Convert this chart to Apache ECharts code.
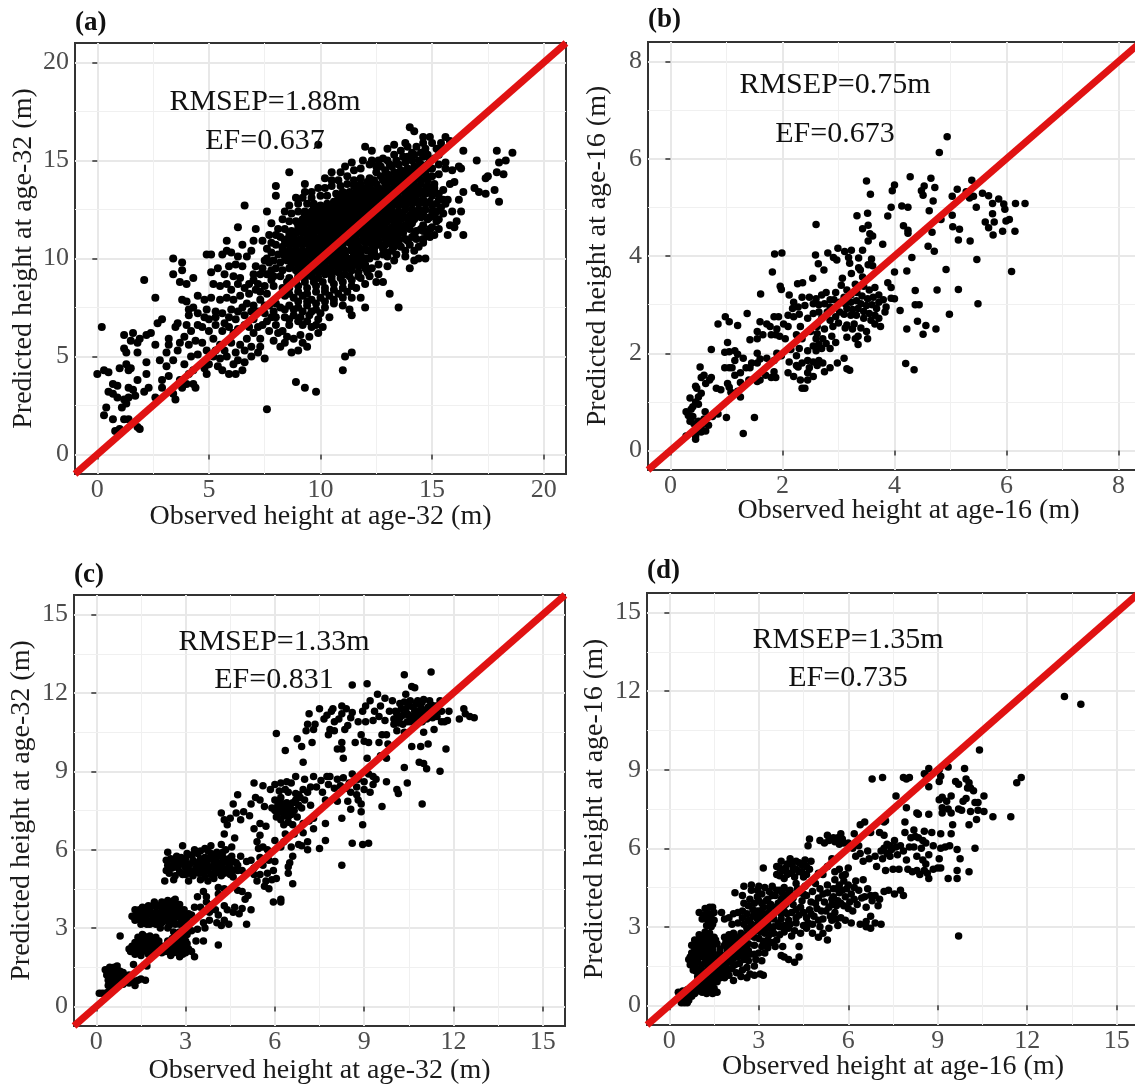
<!DOCTYPE html>
<html>
<head>
<meta charset="utf-8">
<title>Observed vs predicted height</title>
<script src="https://cdn.jsdelivr.net/npm/echarts@6/dist/echarts.min.js"></script>
<style>
  html, body { margin: 0; padding: 0; background: #fff; overflow: hidden; }
  #chart { width: 1135px; height: 1087px; }
</style>
</head>
<body>
<div id="chart"></div>
<script>
// tick labels, major and minor gridlines per panel
const ticksA = [0, 5, 10, 15, 20];
const minorA = [2.5, 7.5, 12.5, 17.5];
const ticksB = [0, 2, 4, 6, 8];
const minorB = [1, 3, 5, 7];
const ticksCD = [0, 3, 6, 9, 12, 15];
const minorCD = [1.5, 4.5, 7.5, 10.5, 13.5];

const titles = ['(a)', '(b)', '(c)', '(d)'];
const xNames = ['Observed height at age-32 (m)', 'Observed height at age-16 (m)', 'Observed height at age-32 (m)', 'Observed height at age-16 (m)'];
const yNames = ['Predicted height at age-32 (m)', 'Predicted height at age-16 (m)', 'Predicted height at age-32 (m)', 'Predicted height at age-16 (m)'];
const rmsep = ['RMSEP=1.88m', 'RMSEP=0.75m', 'RMSEP=1.33m', 'RMSEP=1.35m'];
const ef = ['EF=0.637', 'EF=0.673', 'EF=0.831', 'EF=0.735'];

// [observed, predicted]
const pointsA = [
[.2,6.5],[0,4.1],[.3,4.3],[.5,4.2],[.5,3.2],[.7,3.6],[.9,3.5],[.7,3.1],[.9,2.9],[.4,2.4],[.3,2],[.7,1.8],[.8,1.2],[1,1.3],[1.2,1.8],[1.4,1.8],[1.1,2.4],[1.3,2.6],[1.2,2.8],[1.4,2.9],[1.4,3.4],[1.6,3.3],[1.7,3],[1.8,1.4],[1.9,1.3],[1.8,3.8],[2.2,4.1],[2.2,4.7],[2.1,3.2],[2.3,3.4],[1,4.4],[1.3,4.6],[1.4,4.3],[1.5,4.4],[1.2,5.4],[1.3,5.2],[1.2,6.1],[1.6,6.2],[1.5,5.8],[1.8,5.7],[1.8,5.2],[1.9,5.9],[2.2,6.1],[2.4,6.2],[2.6,5.6],[2.6,8],[2.1,8.9],[2.7,6.7],[2.9,6.9],[2.8,4.8],[3.1,5.2],[3.2,5.6],[3.2,5.9],[3.5,6.5],[3.6,6.7],[3.4,10],[3.8,9.8],[3.8,9.4],[3.4,9.2],[3.7,8.8],[4,8.7],[2.6,2.9],[2.9,3.8],[2.9,3.4],[3.2,4],[3.5,2.8],[3.4,3.1],[3.1,4.5],[3.4,4.8],[3.6,5.3],[3.7,5.7],[3.9,6],[3.7,3.8],[3.8,3.4],[4,3.6],[4.1,4.1],[3.9,4.6],[4.3,3.6],[4.4,3.4],[4.3,4.3],[4.2,5],[4.5,5.1],[4.1,5.6],[4.4,5.8],[4.2,6.3],[4.5,6.6],[4,6.6],[4.1,7.1],[4.5,7.2],[4.3,7.5],[3.8,7.9],[4,7.8],[4.1,7.4],[4.5,8.1],[4.8,7.9],[4.7,5.7],[4.9,5.3],[4.8,4.4],[4.9,4.1],[5,4.6],[5.3,5.3],[5.2,5.9],[5.5,5.6],[5,6.9],[5.3,6.6],[5.6,6.3],[4.9,7.4],[5.3,7.3],[5.1,8],[5.5,7.9],[5.6,7.2],[5.9,7],[5.4,4.5],[5.6,4.3],[5.9,4.1],[6.2,4.1],[6.1,4.6],[6.5,4.3],[6.6,4.7],[5.8,5],[6.2,5.2],[6.6,5.3],[6,5.7],[6.4,5.6],[6.7,5.9],[6.9,5.5],[7.2,5.2],[7.5,4.9],[7.3,5.9],[7,6.2],[6.3,6.4],[6.6,6.6],[5.9,6.5],[6.2,6.9],[6.6,7.1],[6,7.4],[6.3,7.3],[5.8,8],[6.1,7.9],[6.4,8.1],[6.8,8.2],[6.7,7.7],[7,7.6],[7.3,7.9],[7,6.9],[7.4,6.6],[7.7,6.3],[7.9,5.8],[8.2,5.5],[8,6.6],[7.5,7.2],[7.8,7],[7.7,7.6],[8,7.7],[5.2,8.7],[5.5,8.6],[6,8.4],[6.6,8.5],[7.1,8.4],[7,8.9],[7.6,8.2],[7.9,8.6],[7.3,9.2],[7.1,9.6],[7.5,9.9],[7.6,9.2],[4.3,9],[5.1,9.3],[5.4,9.5],[5.9,9.6],[6.2,9.7],[6.5,9.6],[6.1,9.1],[6.4,9],[4.9,10.2],[5.1,10.2],[5.6,10.2],[5.8,10.4],[6,10.3],[6.3,10.1],[6.7,10.1],[6.9,10.4],[6.5,10.7],[7,10.9],[6.3,11.6],[7.1,11.5],[5.8,10.9],[6.6,12.7],[7.6,12.4],[7.8,11.8],[7.6,10.5],[7.4,10.9],[7.7,11.2],[8,13.2],[8,13.7],[8.6,14.4],[9.3,13.8],[7.6,2.3],[8.9,3.7],[9.3,3.4],[9.8,3.2],[11,4.3],[11.1,5],[11.4,5.2],[8.7,5.2],[9,5.3],[9.4,5.5],[8.4,5.7],[8.8,5.9],[9.1,6.1],[9.5,6],[9.9,6.2],[8.3,6.3],[8.6,6.6],[9.2,6.6],[9.6,6.5],[10.1,6.5],[10.4,7],[8.4,7],[8.8,7.1],[9.1,7],[9.5,7.1],[9.9,6.9],[8.2,7.5],[8.6,7.6],[9,7.5],[9.4,7.6],[9.8,7.4],[10.2,7.5],[10.6,7.7],[11,7.6],[11.3,7.4],[11.4,7.1],[12,7.5],[11.8,8],[11.4,8],[13.5,7.5],[13.1,8.2],[8.4,8.1],[8.8,8],[9.2,8.1],[9.6,7.9],[10,8],[10.4,8.1],[10.8,8.2],[11.2,8.3],[11.6,8.5],[12,8.7],[12.5,8.8],[12.8,8.8],[8.6,8.5],[9,8.6],[9.4,8.5],[9.8,8.6],[10.2,8.5],[10.6,8.7],[11,8.8],[11.4,8.9],[11.8,9],[12.2,9.1],[12.6,9.2],[13,9.6],[13.3,9.9],[14,9.5],[14.4,10],[14.7,10],[14.2,9.9],[13.8,10.1],[8.2,9.1],[8.6,9],[9,9.1],[9.3,9],[9.6,9.1],[9.9,9],[10.2,9.2],[10.5,9.1],[10.8,9.3],[11.1,9.2],[11.4,9.4],[11.7,9.3],[12,9.5],[12.3,9.5],[12.6,9.7],[13,10.1],[8,9.5],[8.3,9.4],[8.6,9.5],[8.9,9.4],[9.2,9.5],[9.5,9.4],[9.8,9.5],[10.1,9.6],[10.4,9.5],[10.7,9.6],[11,9.7],[11.3,9.7],[11.6,9.8],[11.9,9.8],[12.2,10],[12.5,10.1],[7.9,9.9],[8.2,9.8],[8.5,9.9],[8.8,9.8],[9.1,9.9],[9.4,9.8],[9.7,9.9],[10,10],[10.3,9.9],[10.6,10],[10.9,10.1],[11.2,10],[11.5,10.2],[11.8,10.2],[12.1,10.4],[12.4,10.5],[12.8,10.5],[13.2,10.4],[13.6,10.6],[14,10.7],[14.4,10.6],[14.8,11.2],[7.8,10.3],[8.1,10.2],[8.4,10.3],[8.7,10.2],[9,10.3],[9.3,10.2],[9.6,10.3],[9.9,10.4],[10.2,10.3],[10.5,10.4],[10.8,10.5],[11.1,10.4],[11.4,10.6],[11.7,10.6],[12,10.8],[12.3,10.9],[12.6,10.9],[12.9,11],[13.2,10.9],[13.5,11],[13.8,11],[14.1,11.1],[8,10.7],[8.3,10.6],[8.6,10.7],[8.9,10.6],[9.2,10.7],[9.5,10.7],[9.8,10.8],[10.1,10.7],[10.4,10.8],[10.7,10.9],[11,10.9],[11.3,11],[11.6,11],[11.9,11.2],[12.2,11.3],[12.5,11.3],[12.8,11.4],[13.1,11.4],[13.4,11.4],[13.7,11.5],[14,11.5],[14.3,11.4],[14.6,11.7],[8.2,11.1],[8.5,11],[8.8,11.1],[9.1,11],[9.4,11.1],[9.7,11.2],[10,11.1],[10.3,11.2],[10.6,11.3],[10.9,11.3],[11.2,11.4],[11.5,11.5],[11.8,11.6],[12.1,11.7],[12.4,11.8],[12.7,11.8],[13,11.9],[13.3,11.9],[13.6,12],[13.9,12],[14.2,12],[14.5,12.1],[14.8,12],[8.4,11.5],[8.7,11.4],[9,11.5],[9.3,11.5],[9.6,11.6],[9.9,11.5],[10.2,11.6],[10.5,11.7],[10.8,11.7],[11.1,11.8],[11.4,11.9],[11.7,12],[12,12.1],[12.3,12.2],[12.6,12.3],[12.9,12.3],[13.2,12.4],[13.5,12.4],[13.8,12.5],[14.1,12.5],[14.4,12.5],[14.7,12.5],[15,12.4],[15.3,12],[8.3,12],[8.6,11.9],[8.9,11.9],[9.2,12],[9.5,12],[9.8,11.9],[10.1,12],[10.4,12.1],[10.7,12.1],[11,12.2],[11.3,12.3],[11.6,12.4],[11.9,12.5],[12.2,12.6],[12.5,12.7],[12.8,12.7],[13.1,12.8],[13.4,12.9],[13.7,12.9],[14,13],[14.3,13],[14.6,13],[14.9,12.9],[15.2,12.8],[8.7,12.3],[9,12.4],[9.3,12.4],[9.6,12.4],[9.9,12.3],[10.2,12.4],[10.5,12.5],[10.8,12.6],[11.1,12.6],[11.4,12.7],[11.7,12.8],[12,12.9],[12.3,13],[12.6,13.1],[12.9,13.2],[13.2,13.3],[13.5,13.4],[13.8,13.4],[14.1,13.5],[14.4,13.5],[14.7,13.5],[15,13.4],[15.3,13.3],[9,12.8],[9.4,12.8],[9.7,12.8],[10,12.7],[10.3,12.8],[10.6,12.9],[10.9,13],[11.2,13],[11.5,13.1],[11.8,13.2],[12.1,13.3],[12.4,13.4],[12.7,13.5],[13,13.6],[13.3,13.7],[13.6,13.8],[13.9,13.9],[14.2,14],[14.5,14],[14.8,14],[15.1,13.8],[15.5,13.5],[15.7,13],[9.2,13.1],[9.6,13.1],[10,13.2],[10.3,13.2],[10.7,13.3],[11,13.4],[11.3,13.4],[11.6,13.6],[11.9,13.6],[12.2,13.7],[12.5,13.8],[12.8,14],[13.1,14.1],[13.4,14.2],[13.7,14.3],[14,14.4],[14.3,14.5],[14.6,14.6],[14.9,14.6],[15.3,14.3],[15.6,14.6],[10.2,13.6],[10.5,13.7],[10.9,13.7],[11.2,13.8],[11.5,14],[11.8,14.1],[12.2,14.1],[12.5,14.4],[12.9,14.5],[13.2,14.7],[13.5,14.8],[13.8,14.9],[14.1,15],[14.4,15],[14.8,15.3],[15.1,15.1],[15.4,15.6],[10.2,14.1],[10.5,14.4],[10.9,14.4],[11.4,14.9],[11.8,14.6],[12.2,14.8],[12.7,14.7],[13,15],[13.3,15.3],[13.6,15.5],[13.9,15.7],[14.3,15.7],[14.6,15.9],[15,15.9],[15.2,15.6],[15.6,16.2],[15.8,16],[14,16.7],[14.2,16.5],[14.6,16.2],[14.9,16.2],[15.4,15.9],[12,15.7],[12.3,15.5],[13,15.6],[13.3,15.8],[13.8,15.9],[9.9,15.8],[16.4,15.5],[15.6,14.9],[15.9,14.5],[16.2,14.7],[16.3,14.6],[17,15],[17.9,15.5],[18.6,15.4],[18.3,15],[18,14.9],[17.4,14.1],[17.5,14.2],[17.9,14.4],[18.2,14.3],[16.9,13.6],[17.1,13.4],[17.4,13.3],[17.8,13.5],[18,12.9],[15.8,13.8],[16,13.9],[16.4,13.4],[16.2,13],[16.3,12.4],[15.6,12.8],[15.9,12.4],[15.5,12.3],[15.1,12.2],[15.2,11.9],[15.8,11.7],[16.1,11.9],[16,11.6],[15.7,11.2],[16.4,11.2],[14.6,11.4],[14.9,11.1],[15,11.6],
];

// the solid middle of the cloud in (a)
const coreA = [
[9,9.3],[9.3,9.3],[9.6,9.3],[9.9,9.3],[10.2,9.4],[10.5,9.3],[10.8,9.5],[11.1,9.5],[11.4,9.6],[11.7,9.6],[12,9.7],
[8.7,9.7],[9,9.7],[9.3,9.7],[9.6,9.7],[9.9,9.7],[10.2,9.8],[10.5,9.8],[10.8,9.9],[11.1,9.9],[11.4,10],[11.7,10],[12,10],[12.3,10.2],
[8.4,10.1],[8.7,10],[9,10.1],[9.3,10],[9.6,10.1],[9.9,10.2],[10.2,10.1],[10.5,10.2],[10.8,10.3],[11.1,10.2],[11.4,10.4],[11.7,10.4],[12,10.5],[12.3,10.7],[12.6,10.7],[12.9,10.7],[13.2,10.7],
[8.3,10.5],[8.6,10.4],[8.9,10.5],[9.2,10.4],[9.5,10.5],[9.8,10.6],[10.1,10.5],[10.4,10.6],[10.7,10.7],[11,10.7],[11.3,10.8],[11.6,10.8],[11.9,10.9],[12.2,11.1],[12.5,11.1],[12.8,11.2],[13.1,11.2],[13.4,11.2],[13.7,11.3],
[8.4,10.9],[8.7,10.9],[9,10.8],[9.3,10.9],[9.6,10.9],[9.9,11],[10.2,10.9],[10.5,11],[10.8,11.1],[11.1,11.1],[11.4,11.2],[11.7,11.3],[12,11.4],[12.3,11.5],[12.6,11.6],[12.9,11.6],[13.2,11.6],[13.5,11.7],[13.8,11.7],[14.1,11.8],
[8.6,11.3],[8.9,11.3],[9.2,11.3],[9.5,11.3],[9.8,11.4],[10.1,11.3],[10.4,11.4],[10.7,11.5],[11,11.5],[11.3,11.6],[11.6,11.7],[11.9,11.8],[12.2,11.9],[12.5,12],[12.8,12],[13.1,12.1],[13.4,12.2],[13.7,12.2],[14,12.2],[14.3,12.3],[14.6,12.3],
[9,11.7],[9.3,11.8],[9.6,11.8],[9.9,11.7],[10.2,11.8],[10.5,11.9],[10.8,11.9],[11.1,12],[11.4,12.1],[11.7,12.2],[12,12.3],[12.3,12.4],[12.6,12.5],[12.9,12.5],[13.2,12.6],[13.5,12.7],[13.8,12.7],[14.1,12.8],[14.4,12.8],[14.7,12.8],[15,12.7],
[9.3,12.2],[9.6,12.2],[9.9,12.1],[10.2,12.2],[10.5,12.3],[10.8,12.4],[11.1,12.4],[11.4,12.5],[11.7,12.6],[12,12.7],[12.3,12.8],[12.6,12.9],[12.9,13],[13.2,13.1],[13.5,13.1],[13.8,13.2],[14.1,13.2],[14.4,13.3],[14.7,13.3],[15,13.2],
[9.7,12.6],[10,12.5],[10.3,12.6],[10.6,12.7],[10.9,12.8],[11.2,12.8],[11.5,12.9],[11.8,13],[12.1,13.1],[12.4,13.2],[12.7,13.3],[13,13.4],[13.3,13.5],[13.6,13.6],[13.9,13.7],[14.2,13.7],[14.5,13.8],[14.8,13.7],[15.1,13.6],
[10.8,13.1],[11.1,13.2],[11.4,13.3],[11.7,13.4],[12,13.5],[12.3,13.5],[12.6,13.6],[12.9,13.8],[13.2,13.9],[13.5,14],[13.8,14.1],[14.1,14.2],[14.4,14.3],[14.7,14.3],[15,14.2],
[11.5,13.7],[11.8,13.8],[12.1,13.9],[12.4,14],[12.7,14.2],[13,14.3],[13.3,14.4],[13.6,14.5],[13.9,14.6],[14.2,14.7],[14.5,14.8],[14.8,14.8],[13.1,14.8],[13.7,15.2],[14.2,15.3],[14.5,15.4],[12.5,14.7],
[8.5,8.8],[8.9,8.8],[9.3,8.8],[9.7,8.8],[10.1,8.8],[10.5,8.9],[10.9,9],[11.3,9.1],[11.7,9.1],[12.1,9.3],[8.6,8.2],[9,8.3],[9.4,8.2],[9.8,8.3],[10.2,8.3],[10.6,8.4],[11,8.5],[11.4,8.6],[9,7.8],[9.4,7.8],[9.8,7.7],[10.2,7.8],[10.6,7.9],[11,8],[8.4,7.4],[8.8,7.4],[9.2,7.3],[9.6,7.3],[10,7.2],[8.6,6.9],[9,6.8],[9.4,6.8],[9.8,6.6],[8.5,6],[9.2,5.7],
[7.2,8.7],[7.5,8.6],[7.8,8.9],[7.4,9.5],[7.8,9.4],[7.7,9.8],[7,9.2],[7.3,8.3],[6.8,8.7],[6.3,8.7],[5.8,8.7],[5.7,9.2],[7.2,7.3],[6.9,7.3],[6.5,7.5],[7.5,7.6],[7.9,7.3],[8,7],[8.1,6.2],[7.6,6.8],[7.2,6.5],[6.8,6.5],[6.1,6.2],[5.7,6.7],[5.3,7],[4.7,6.5],[4.8,7],[5,6.3],[5.7,5.3],[5.2,5],[5.5,4.9],[6.3,4.8],[6.9,5],[7.3,5.5],
[13,10.3],[13.4,10.2],[13.8,10.4],[14.2,10.4],[14.6,10.8],[14.3,11],[14.6,11],[14.9,11.5],[15.1,11.2],[15.3,11.5],[15.2,12.4],[15.4,12.6],[15.5,13],[15.3,13],[14.9,12.1],[14.5,11.5],[14.2,11.2],[13.9,10.9],[13.3,10.6],[12.8,10.2],[12.4,10.3],[13,10.8],[13.5,10.8],[15,14.6],[15.3,14.8],[15.3,15.3],[14.9,15],[14.6,15.2],[14.1,15.4],[14.7,15.6],[13.9,15.2],[13.4,15],[12.8,15.1],[12.6,15],[12.3,15],[11.9,15],[11.5,14.5],[11.1,14.7],[11.2,14.2],[10.8,14],[10.5,14],[9.9,13.6],[9.6,13.4],[9.3,13.4],[8.9,13.1],[8.6,12.7],[8.4,12.4],[8.1,11.5],[8,11.2],[7.8,10.8],[7.6,10],[7.9,9.1],[8.3,8.5],
];

const pointsB = [
[4.94,6.45],[4.8,6.13],[3.5,5.54],[3.57,5.27],[4,5.46],[3.96,5.34],[4.28,5.63],[4.65,5.6],[4.72,5.41],[4.53,5.44],[4.48,5.34],[4.51,5.25],[4.69,5.13],[5.38,5.56],[5.12,5.37],[5.03,5.23],[5.28,5.32],[5.34,5.19],[5.41,5.23],[5.57,5.29],[5.68,5.24],[5.86,5.17],[5.75,5.08],[5.95,5.07],[6.16,5.08],[6.33,5.08],[5.97,4.96],[5.46,5],[5.75,4.87],[5.03,4.84],[4.83,4.75],[4.62,4.93],[3.94,5],[4.13,5.03],[4.24,5],[3.88,4.82],[3.33,4.83],[3.52,4.88],[2.6,4.65],[3.53,4.63],[3.43,4.56],[3.56,4.46],[3.61,4.41],[3.53,4.31],[3.79,4.24],[4.16,4.62],[4.24,4.53],[4.24,4.47],[4.67,4.49],[5.04,4.6],[5.16,4.55],[5.14,4.33],[5.35,4.31],[5.62,4.7],[5.78,4.7],[5.68,4.58],[5.76,4.43],[5.93,4.51],[5.99,4.72],[6.05,4.75],[6.15,4.51],[6.09,3.68],[5.47,3.93],[4.71,4.1],[4.6,4.2],[4.31,3.97],[4,3.67],[4.22,3.69],[4.92,3.72],[4.37,3.29],[4.76,3.3],[5.14,3.31],[5.49,3.02],[4.98,2.8],[4.37,3],[4.44,3],[4.1,2.88],[4.41,2.66],[4.22,2.5],[4.56,2.57],[4.51,2.39],[4.74,2.5],[4.2,1.79],[4.35,1.66],[3.88,3.45],[3.94,3.35],[3.94,3.13],[4,3.12],[1.86,4.04],[1.99,4.06],[1.82,3.67],[2.59,4.02],[2.64,3.84],[2.74,3.71],[2.81,4.06],[2.99,4.16],[3.11,4.09],[3.23,4.12],[3.43,4.12],[2.91,3.97],[2.97,3.92],[3.18,3.97],[3.2,3.85],[3.36,3.96],[3.59,3.94],[3.36,3.76],[3.39,3.71],[3.53,3.82],[3.61,3.8],[3.23,3.64],[3.07,3.54],[3.43,3.57],[2.54,3.54],[2.27,3.43],[2.36,3.45],[1.96,3.38],[1.98,3.31],[1.61,3.22],
[3.05,3.4],[3.15,3.3],[3.3,3.42],[3.45,3.38],[3.55,3.3],[3.65,3.35],[3.72,3.2],[2.95,3.25],[3.1,3.15],[3.22,3.2],[3.33,3.25],[3.42,3.18],[3.52,3.12],[3.62,3.15],[3.72,3.05],[3.8,3.1],[3.85,2.95],[3.83,2.85],[2.92,3.1],[3.02,3.05],[3.12,3.02],[3.22,3.05],[3.32,3.08],[3.4,3.02],[3.5,2.98],[3.6,3],[3.68,2.92],[3.15,2.92],[3.25,2.9],[3.35,2.92],[3.45,2.86],[3.55,2.82],[3.65,2.78],[3.72,2.72],[3.02,2.85],[3.1,2.8],[3.22,2.78],[3.32,2.78],[3.45,2.72],[3.58,2.68],[3.65,2.6],[3.75,2.55],
[2.12,3.2],[2.2,3.05],[2.35,3.15],[2.48,3.15],[2.6,3.12],[2.7,3.2],[2.78,3.25],[2.85,3.1],[2.55,3.02],[2.65,3],[2.75,3.02],[2.85,2.95],[2.18,2.92],[2.28,2.95],[2.4,2.98],[2.3,2.8],[2.55,2.82],[2.65,2.85],[2.8,2.85],[2.95,2.75],[2.45,2.72],[2.7,2.72],[2.85,2.68],[3,2.62],[3.15,2.58],[3.28,2.6],[3.4,2.52],[3.5,2.45],[3.25,2.5],[3.12,2.52],[2.9,2.55],[2.75,2.5],[2.62,2.55],[2.5,2.45],[2.62,2.4],[2.32,2.55],[2.1,2.78],[2.2,2.75],[1.93,2.75],[1.85,2.75],[1.6,2.65],[1.72,2.6],[1.78,2.55],[1.9,2.5],[2.02,2.6],[2.1,2.55],[1.95,2.35],[2.25,2.38],[1.55,2.45],[1.65,2.38],[1.8,2.38],[1.88,2.38],[1.42,2.28],[1.55,2.3],[2.05,2.3],[2.35,2.3],[2.6,2.3],[2.72,2.3],[2.88,2.35],[3.15,2.33],[3.3,2.3],[3.35,2.35],[3.52,2.3],[3.35,2.18],[2.55,2.15],[2.65,2.18],[2.78,2.2],[2.95,2.22],[2.45,2.05],[2.6,2.05],[2.7,2.1],[2.85,2.1],[2.3,2.1],[2.25,1.95],[2.15,2.08],[1.9,2],[1.55,2],[1.6,1.88],[1.45,1.8],[1.55,1.8],[1.72,1.9],[1.85,1.85],[1.98,1.95],[2.12,1.82],[2.25,1.75],[2.35,1.8],[2.45,1.85],[2.55,1.82],[2.65,1.85],[2.62,1.75],[2.72,1.8],[2.85,1.7],[2.98,1.8],[3.1,1.9],[2.48,1.7],[2.28,1.72],[2.1,1.6],[2.2,1.52],[2.45,1.6],[2.55,1.52],[2.75,1.62],[3.15,1.68],[3.2,1.65],[2.35,1.28],[2.4,1.28],[2.32,1.45],[2.45,1.45],[1.85,1.62],[1.8,1.5],[1.88,1.5],[1.7,1.55],[1.6,1.45],[1.25,1.6],[1.15,1.55],[1.35,1.7],[1.42,1.7],[1.1,1.7],[1.05,1.7],[.97,1.7],[1.15,1.85],[1.2,1.98],[1.15,2.05],[1.3,1.9],[1.05,2.03],[.97,2.02],[.73,2.08],[.85,2.6],[.98,2.75],[1.05,2.65],[1.2,2.57],[1.37,2.82],[1.02,2.22],[1.25,1.4],[.9,1.25],[.82,1.28],[1.05,1.3],[1.08,1.2],[1.2,1.22],[1.25,1.1],[1.3,.35],[1,.68],[1.5,.68],[1.02,1.38],[1.55,1.42],[1.4,1.45],[.53,1.72],[.55,1.5],[.6,1.55],[.73,1.5],[.7,1.45],[.63,1.38],[.47,1.28],[.45,1.32],[.55,1.18],[.5,1.1],[.35,1.08],[.45,1],[.4,.9],[.5,.95],[.37,.85],[.28,.8],[.32,.72],[.4,.7],[.35,.6],[.42,.55],[.5,.6],[.62,.8],[.6,.65],[.55,.5],[.68,.52],[.63,.4],[.55,.38],[.45,.42],[.45,.3],[.45,.23],[.28,.3],[.85,.75],[.75,.7],
];

const pointsC = [
[.1,.5],[.2,.5],[.3,.5],[.4,.55],[.5,.6],[.6,.7],[.7,.75],[.5,.8],[.7,.85],[.9,.85],[1.1,.9],[1.3,.8],[1.3,.95],[.4,1],[.6,1],[.8,1],[1,1.05],[1.2,1],[1.4,1],[1.5,1.05],[1.65,1],[.35,1.2],[.55,1.2],[.75,1.2],[.95,1.2],[1.1,1.2],[.3,1.4],[.5,1.4],[.7,1.4],[.45,1.5],[.7,1.55],[.8,1.35],[.9,1.3],[1.25,1.6],
[.8,2.7],[1.1,2.2],[1.15,2.1],[1.3,2],[1.35,2.3],[1.5,2.5],[1.7,2.5],[1.9,2.5],[2.1,2.5],[1.4,2.15],[1.6,2.2],[1.8,2.2],[2,2.25],[2.2,2.3],[1.5,2.35],[1.7,2.35],[1.9,2.35],[2.1,2.35],[1.5,1.95],[1.75,2],[1.4,2.65],[1.6,2.7],[1.8,2.7],[2,2.65],[1.7,1.55],[1.55,2.75],
[2.2,2.05],[2.4,2.1],[2.6,2.05],[2.8,2],[3,2.05],[2.5,1.95],[2.8,1.9],[3.1,2.2],[3.3,1.9],[3.2,2.1],[3.35,2.5],[3.6,2.5],[4.1,2.35],[2.3,2.3],[2.5,2.3],[2.7,2.25],[2.9,2.3],[2.4,2.5],[2.6,2.5],[2.8,2.45],[3,2.5],[2.65,2.65],[2.85,2.65],[3.05,2.75],[3,3],[2.6,2.85],[2.8,2.85],
[1.2,3.45],[1.3,3.7],[1.4,3.35],[1.5,3.55],[1.6,3.3],[1.6,3.7],[1.8,3.15],[1.7,3.5],[1.9,3.4],[1.8,3.75],[2,3.15],[2.1,3.4],[2,3.6],[2.05,3.85],[2.2,3.2],[2.3,3.45],[2.2,3.7],[2.3,3.95],[1.95,4],[2.4,3],[2.4,3.25],[2.5,3.5],[2.4,3.75],[2.5,4],[2.6,3.25],[2.7,3.5],[2.6,3.75],[2.65,4.1],[2.8,3.15],[2.9,3.4],[2.8,3.65],[2.8,3.9],[2.95,3.7],[3,3.3],[3.1,3.55],[3.2,3.5],[1.5,3.15],[1.3,3.45],[1.9,3.2],[1.6,3.5],[1.45,3.7],[2.15,3],[3.2,2.9],[3.4,2.95],[3.65,3],
[3.3,3.8],[3.5,3.8],[3.4,4.2],[3.6,4.4],[3.7,4.2],[3.8,3.6],[3.8,3.3],[3.6,3.2],[3.9,3.9],[4,3.7],[4.1,3.5],[4.3,3.85],[4.1,4.3],[4.3,4.5],[4.1,4.55],[4.2,3.1],[4.05,3.2],[4.3,3.3],[4.45,3.15],[4.4,3.7],[4.6,3.6],[4.8,3.55],[4.65,3.8],[4.9,3.75],[5.2,3.7],[5.05,3.15],[5.1,4.25],[4.9,4.4],[4.75,4.45],[3.9,3.85],[3.7,4],[5,4.1],
[2.3,4.8],[2.6,4.85],[2.35,5.2],[2.4,5.4],[2.35,5.6],[2.4,5.9],[2.9,6.15],[2.7,5.75],[2.6,5.5],[2.75,5.3],[2.9,5.05],[3.1,4.8],[2.95,5.5],[3.1,5.25],[3.05,5.85],[3.25,5.6],[3.35,5.3],[3.25,5],[3.4,5.85],[3.55,5.45],[3.6,5.1],[3.5,4.85],[3.75,4.8],[3.65,5.7],[3.65,6.05],[3.85,6.15],[3.8,5.35],[3.85,5.85],[4,5.6],[4,5.1],[3.95,4.9],[4.15,5.35],[4.15,5.85],[4.2,6.2],[4.3,5.1],[4.35,5.55],[4.35,6],[4.3,6.6],[4.5,5.3],[4.55,5.75],[4.5,5.05],[4.7,5.5],[4.85,5.75],[4.75,5.2],[4.6,4.95],[4.55,6.1],[4.9,5.2],[5.2,5.6],[5.05,5.55],[4.65,6.45],[4.25,5.7],[3.3,6],
[5.3,5.3],[5.5,5.7],[5.3,5.05],[5.6,5.4],[5.8,5.6],[6,5.55],[5.5,5.05],[5.75,5.1],[5.95,5.2],[5.4,4.8],[5.7,4.8],[5.9,4.85],[6.05,4.9],[5.65,4.6],[5.8,4.5],[5.95,4],[6.2,4.1],[6.2,4],[6.6,4.7],[6.45,5.1],[6.45,5.35],[6.5,5.5],[6.6,5.75],[6.2,6.1],[5.45,6.05],[5.6,6.1],[5.4,6.3],[5.5,6.55],[6.55,6.1],[6.8,6.2],[6.9,6.15],[5.75,6],[6,6.35],[6.3,6.3],[5.7,6.9],[5.5,7],[5.3,6.8],[6.35,6.6],[6.65,6.6],[6.95,6.65],[7.1,6],[7.5,6.05],[7.7,6.35],[7.3,6.8],[7.7,7],[7.1,6.3],
[4.2,7.4],[4.3,7.15],[4.4,6.95],[4.5,7.2],[4.6,7.75],[4.7,7.4],[4.85,7.15],[4.75,8.1],[4.95,7.45],[5.15,7.3],[5.2,7.75],[5.5,7.9],[5.35,8],[5.3,8.55],[5.6,8.45],[5.65,7.65],[5.9,7.6],[5.85,8.3],[6,7.9],[6,8.5],[6.1,7.4],[6.1,7.7],[6.2,7.15],[6.2,8],[6.2,8.55],[6.3,7.5],[6.3,6.95],[6.4,7.8],[6.45,8.2],[6.45,7.25],[6.55,8.55],[6.55,7.55],[6.7,7.9],[6.75,7.25],[6.8,8.1],[6.6,6.95],[6.9,7.6],[6.95,8.3],[6.95,7],[7,7.9],[7.15,7.1],[7.3,7.2],[7.2,7.7],[6.7,8.8],[7,8.7],[7.1,8.2],[7.2,8.4],[7.3,8.8],[6.4,8.6],
[7.4,8.4],[7.55,8.65],[7.6,8.2],[7.75,8.8],[7.8,8.5],[7.7,7.9],[7.85,8.8],[8,8.35],[8.1,8.7],[8.2,8.45],[8.1,7.85],[8.3,8.75],[8.4,8.35],[8.5,8.55],[8.6,8.9],[8.55,8.2],[8.75,8.4],[8.8,8.7],[8.75,8.1],[9,8.6],[9,8.3],[9.15,8.9],[9.3,8.5],[9.2,8.2],[9.4,8.7],[9.3,8.8],[8.45,7.85],[8.8,7.9],[8.55,7.55],[8.9,7.75],[8.9,7.45],[8.25,7.2],[8.95,6.95],[8.6,6.25],[8.95,6.2],[9.15,6.25],[8.25,5.4],[9.6,7.65],[9.75,8.6],[10.1,8.3],[10.15,8.15],[10.45,8.55],[10.95,7.75],
[6.05,10.45],[6.35,9.8],[6.75,10.25],[6.9,9.95],[6.95,9.35],[7.05,10.55],[7.1,10.8],[7.15,11.2],[7.25,10.1],[7.3,10.6],[7.35,10.8],[7.5,11.4],[7.65,11],[7.75,11.15],[7.8,10.4],[7.9,11.3],[7.95,11.4],[7.85,10.6],[8,10.55],[8,10.9],[8.15,11],[8.25,11.5],[8.25,11.2],[8.4,11.4],[8.1,9.85],[8.25,9.85],[8.25,10.1],[8.3,9.5],[8.35,10.6],[8.45,10.75],[8.55,11.05],[8.6,12.3],[8.6,11.25],[8.7,10.1],[8.8,10.9],[8.9,10.4],[8.95,11.3],[9,10.15],[9.05,11.5],[9.05,10.9],[9.1,12.35],[9.15,10.1],[9.2,11.7],[9.3,10.95],[9.35,11.3],[9.45,11.95],[9.5,10.1],[9.55,11.5],[9.6,10.4],[9.5,11.1],[9.7,11.8],[9.7,10.95],[9.75,10.4],[9.8,10.05],[9.85,11.3],[9.1,9.5],[9.55,9.6],[9.75,9.5],[9.95,11.7],[10,10.8],[10.05,11.3],[10.1,10.55],[10.2,11.6],[10.2,11.05],[10.3,10.8],[10.35,10.5],[10.35,12.7],[10.4,11.4],[10.4,11.95],[10.5,11.15],[10.55,11.7],[10.55,10.9],[10.6,12.25],[10.7,11.3],[10.7,12.2],[10.8,11.1],[10.8,11.7],[10.9,11.5],[10.95,10.9],[11,11.2],[11,11.75],[11.1,11],[11.15,11.45],[11.2,11.7],[11.25,12.8],[11.3,11.2],[11.35,11.5],[11.45,11.1],[11.55,11.7],[11.6,11.3],[10.6,9.95],[10.9,9.95],[11.15,10.05],[10.35,9.15],[10.85,9.35],[11,9.3],[11.1,9.1],[11.35,10.6],[11,10.5],[11.55,9],[11.7,10.9],[11.75,9.85],[11.6,10.9],[11.85,11.3],[11.8,10.95],[12.2,11],[12.35,11.4],[12.4,11.2],[12.55,11.1],[12.7,11.05],
];

// the solid clusters in (c)
const coreC = [
[.4,.8],[.6,.85],[.8,.85],[.45,1.1],[.65,1.1],[.85,1.1],[1.05,1.1],[.4,1.3],[.6,1.3],[.8,1.25],[.6,1.5],[.55,.7],
[1.45,2.45],[1.65,2.45],[1.85,2.45],[2.05,2.45],[1.6,2.6],[1.8,2.6],[2,2.55],[1.45,2.25],[1.65,2.3],[1.85,2.3],[2.05,2.15],[1.55,2.1],[1.85,2.05],[1.95,2.1],[1.3,2.45],[1.2,2.3],[1.25,2.1],
[2.35,2.2],[2.55,2.2],[2.75,2.15],[2.95,2.15],[2.45,2.4],[2.65,2.4],[2.85,2.35],[3.05,2.4],[2.55,2.6],[2.75,2.55],[2.95,2.6],[2.7,2.75],[2.9,2.75],[3.1,2.9],[2.3,2.1],[2.6,2.15],[2.9,2],
[1.3,3.3],[1.45,3.45],[1.55,3.25],[1.7,3.3],[1.75,3.65],[1.85,3.55],[1.65,3.6],[1.9,3.85],[2,3.3],[2,3.45],[2.15,3.55],[2.15,3.85],[2.1,3.15],[2.3,3.3],[2.3,3.6],[2.35,3.85],[2.45,3.1],[2.5,3.35],[2.5,3.65],[2.55,3.9],[2.65,3.15],[2.65,3.4],[2.7,3.65],[2.75,3.9],[2.85,3.3],[2.85,3.5],[2.95,3.25],[3,3.5],[3.05,3.4],[1.7,3.15],[1.55,3.8],[1.75,3.85],[2.6,4.05],[2.4,4.05],[2.2,4],
[2.45,5.1],[2.55,5.3],[2.5,5.65],[2.7,5.55],[2.65,5],[2.8,5.15],[2.85,5.45],[2.85,5.7],[3,5.05],[3,5.3],[3,5.65],[3.15,5.1],[3.15,5.45],[3.2,5.8],[3.3,5.2],[3.35,5.5],[3.45,5.1],[3.45,5.35],[3.5,5.65],[3.6,5.3],[3.65,4.95],[3.75,5.2],[3.7,5.5],[3.85,5.05],[3.8,5.65],[3.95,5.3],[3.95,5.5],[3.95,5.8],[4.05,5.9],[4.1,5.2],[4.1,5.5],[4.1,5.75],[4.25,5.3],[4.25,5.5],[4.2,5],[4.25,5.9],[4.4,5.25],[4.45,5.45],[4.45,5.65],[4.6,5.2],[4.6,5.55],[4.75,5.4],[3.5,5.95],[3.75,5.95],
[6,7.5],[6.05,7.25],[6.15,7.55],[6.2,7.8],[6.3,7.3],[6.3,7.7],[6.4,7.5],[6.45,7.05],[6.5,7.7],[6.55,7.35],[6.6,7.8],[6.65,7.5],[6.7,8.15],[6.8,7.7],[6.85,8],[6.15,8.25],[6.35,8.3],
[10,11],[10.1,11.2],[10.15,10.85],[10.25,11.4],[10.3,11.15],[10.35,11.65],[10.45,10.9],[10.45,11.2],[10.5,11.5],[10.6,11.1],[10.65,11.45],[10.7,10.95],[10.75,11.6],[10.85,11.3],[10.85,10.9],[10.95,11.15],[10.95,11.65],[11.05,11.35],[11.1,11.2],[11.15,11.05],[11.2,11.3],[11.3,11.05],[11.4,11.35],[11.25,11.55],[11.45,11.5],
];

const pointsD = [
[.4,.1],[.5,.1],[.6,.1],[.35,.25],[.5,.25],[.65,.2],[.35,.4],[.5,.4],[.65,.45],[.3,.5],[.45,.55],[.6,.6],[.75,.35],[.85,.45],[.8,.6],[.95,.55],[1.1,.5],[1.25,.45],[1.45,.45],[1.6,.5],[.9,.75],[1.05,.7],[1.2,.65],[1.35,.65],[1.5,.65],[1,.9],[1.15,.85],[1.3,.85],[1.45,.85],[1.6,.9],[.95,1.1],[1.1,1.05],[1.25,1.05],[1.4,1.05],[1.55,1.05],[1.7,1.05],[1.85,1.05],[2,1.15],[2.15,.95],[2.4,1.1],[2.6,1.05],[2.7,1.2],[2.85,1.15],[3.05,1.2],[3.15,1.15],
[.7,1.55],[.85,1.5],[1,1.4],[1.15,1.3],[1.3,1.25],[1.5,1.3],[1.65,1.25],[1.8,1.3],[1.95,1.35],[2.1,1.4],[2.25,1.25],[2.45,1.35],[.65,1.75],[.8,1.8],[.95,1.65],[1.1,1.55],[1.3,1.45],[1.45,1.5],[1.6,1.45],[1.75,1.55],[1.9,1.6],[2.05,1.65],[2.2,1.55],[2.35,1.6],[2.6,1.45],[2.85,1.5],[.75,2],[.9,1.95],[1.05,1.85],[1.2,1.8],[1.4,1.7],[1.55,1.7],[1.7,1.75],[1.85,1.85],[2,1.85],[2.15,1.8],[2.3,1.85],[2.5,1.75],[2.65,1.7],[2.9,1.75],[3.1,1.7],[.8,1.35],[.75,2.3],[.85,2.25],[1,2.2],[1.15,2.1],[1.3,2],[1.5,1.95],[1.7,2],[1.95,2.1],[2.1,2.05],[2.25,2.05],[2.4,2.05],[2.55,2],[2.7,1.95],[2.85,1.95],[3,2],[3.2,2],[.85,2.5],[1,2.45],[1.15,2.35],[1.3,2.3],[1.45,2.25],[1.85,2.3],[2.1,2.3],[2.3,2.3],[2.5,2.25],[3.1,2.25],[3.3,2.2],[3.55,2.25],[3.8,2.25],[3.85,1.85],[4,1.75],[4.2,1.65],[3.75,1.9],[4.35,1.85],[4.35,2.25],[1,2.7],[1.15,2.65],[1.3,2.55],[1.45,2.45],[1.2,2.8],[1.35,2.75],[1.05,2.55],[1.5,2.6],[1.6,2.35],
[1.85,2.6],[2,2.55],[2.2,2.55],[2.35,2.6],[2.5,2.5],[2.15,2.75],[2,2.7],[2.4,2.75],[2.55,2.7],[2.7,2.65],[2.85,2.6],[3,2.55],[3.15,2.45],[3.3,2.5],[3.45,2.4],[3.6,2.5],[2.6,2.95],[2.75,2.85],[2.9,2.85],[3.05,2.8],[3.2,2.75],[3.35,2.7],[3.5,2.75],[3.7,2.7],[3.85,2.8],[4.1,2.65],[2.75,3.1],[2.9,3.05],[3.05,3.05],[3.2,3],[3.35,2.95],[3.5,3],[3.7,3],[3.85,3.05],[4,2.95],[4.2,2.85],[4.4,2.75],[4.6,2.95],[4.8,2.75],[5,2.6],[5.15,2.75],[5.3,2.5],[1,3.55],[1.15,3.45],[1.2,3.7],[1.3,3.25],[1.3,3.5],[1.35,3.75],[1.4,3],[1.5,3.25],[1.5,3.55],[1.25,3.05],[1.45,3.75],[1.75,3.55],[1.85,3.3],[2,3.35],[2.1,3.1],[2.15,3.5],[2.3,3.55],[2.3,3.15],[2.45,3.35],[2.5,3.1],[2.6,3.5],[2.65,3.25],[2.65,3.8],[2.8,3.4],[2.8,3.65],[2.95,3.3],[2.95,3.6],[3,4],[3.1,3.4],[3.15,3.75],[3.25,3.25],[3.35,3.55],[3.4,3.85],[3.5,3.3],[3.6,3.6],[3.65,3.9],[3.75,3.3],[3.85,3.6],[3.9,3.85],[4,3.25],[4.1,3.55],[4.15,3.85],[4.25,3.15],[4.35,3.45],[4.4,3.75],[4.5,3.05],[4.6,3.35],[4.7,3.65],[4.8,3.1],[4.85,3.4],[4.95,3.7],[5.05,3],[5.15,3.3],[5.25,3.6],[5.35,2.95],[5.45,3.25],[5.55,3.55],[5.65,3.05],[5.75,3.35],[5.9,3.25],[6.1,3.15],[6.4,3.1],[6.6,3.2],[6.75,2.95],[6.75,3.4],[6.6,3],[6.9,3.15],[7.1,3.1],[9.7,2.65],
[2.2,4.3],[2.45,4.2],[2.5,4.55],[2.7,4.05],[2.75,4.4],[2.75,4.6],[2.95,4.15],[2.95,4.4],[3,4.55],[3.1,4.25],[3.2,4.5],[3.3,4.05],[3.35,4.35],[3.45,4.55],[3.55,4.2],[3.7,4.4],[3.75,4.05],[3.85,4.5],[3.95,4.15],[4.05,4.4],[4.15,4.1],[4.25,4.65],[4.35,4.3],[4.45,4],[4.55,4.55],[4.6,4.2],[4.75,3.95],[4.8,4.35],[4.9,4.65],[5,4.1],[5.05,4.45],[5.2,3.95],[5.3,4.3],[5.3,4.6],[5.45,3.85],[5.5,4.15],[5.5,4.45],[5.55,4.8],[5.65,4],[5.7,4.3],[5.7,4.6],[5.8,4.95],[5.85,3.8],[5.9,4.15],[5.95,4.45],[6.05,3.95],[6.1,4.25],[6.15,3.6],[6.25,4.75],[6.3,3.85],[6.35,4.4],[6.5,4.8],[6.55,4.15],[6.6,3.75],[6.65,4.45],[6.8,4],[6.9,4.2],[7,3.8],[7.05,4.05],[7.2,4.35],[7.35,4.4],[7.55,4.25],[7.75,4.4],[7.85,4.2],[3.15,5.25],[3.6,5.3],[3.6,5],[3.75,5.5],[3.8,5.15],[3.85,4.85],[3.95,5.4],[4,5.05],[4.05,5.6],[4.15,5.25],[4.2,4.9],[4.25,5.5],[4.35,5.1],[4.45,5.35],[4.5,4.9],[4.55,5.55],[4.7,5.2],[4.75,5.5],[5,5.05],[5.15,5],[5.3,5.3],[5.45,5.6],[5.55,5.1],[5.7,5.2],[5.9,5],[6,5.25],
[4.65,6.1],[4.7,6.35],[5.05,6.3],[5.2,6.2],[5.35,6.3],[5.3,6.5],[5.55,6.25],[5.65,6.4],[5.75,6.55],[5.85,6.2],[6,6.2],[6.15,6],[6.2,6.55],[6.4,6.9],[6.55,7],[6.4,5.8],[6.25,5.7],[6.5,5.5],[6.35,6.1],[6.65,5.9],[6.75,6.6],[7.05,6.6],[7.2,6.5],[7.2,7],[6.7,5.6],[6.9,5.7],[6.95,5.3],[7.15,5.6],[7.2,6],[7.3,5.8],[7.25,5.15],[7.45,5.95],[7.5,5.2],[7.55,6.3],[7.65,5.75],[7.7,5.2],[7.75,6.1],[7.9,6.6],[7.95,5.55],[8,5.2],[8.05,6.05],[8.2,6.7],[8.2,6.05],[8.15,5.1],[8.3,5.7],[8.35,6.4],[8.4,5],[8.5,5.55],[8.45,6],[8.55,6.65],[8.65,5.05],[8.7,5.75],[8.6,6.2],[8.7,4.85],[8.8,6.6],[8.85,5.2],[8.85,6.1],[9,5.25],[9.1,5.25],[9.05,5.6],[9.1,6],[9.25,6.05],[9.4,6.1],[9.1,6.55],[9.35,4.85],[9.65,4.85],[9.65,5.15],[9.75,5.6],[9.65,5.95],[10.05,5.1],[10.25,6],[9.45,6.55],[9.5,6.9],[9.45,7.35],[9.35,7.5],[9.15,7.35],[9.15,7.55],[9.05,7.85],[9.15,7.95],[9.3,7.8],[9.45,8],[9.7,7.5],[9.8,7.45],[9.85,7.8],[9.95,7.9],[10,8.3],[10.05,8.5],[10.1,8.3],[10.2,8.2],[9.95,8.65],[9.6,8.55],[9.7,8.45],[9.05,8.55],[9.1,8.75],[9.05,9],[9.35,9.1],[9.9,9.05],[8.7,9.05],[8.6,8.8],[8.55,8.85],[8.7,8.35],[8.7,7.3],[8.3,7.35],[8.35,7.3],[7.9,7],[7.95,7.55],[7.6,8],[7.85,8.7],[7.95,8.65],[8.05,8.7],[7.15,8.7],[6.8,8.65],[7.25,7.05],[10.05,6.9],[10.3,7.1],[10.1,7.4],[10.35,7.75],[10.25,7.75],[10.55,7.4],[10.35,7.45],[10.55,8],[10.85,7.2],[10.4,9.75],[11.45,7.2],[11.65,8.5],[11.8,8.7],[13.25,11.8],[13.8,11.5],
];

// the solid clusters in (d)
const coreD = [
[1.1,.75],[1.25,.75],[1.4,.75],[.95,.95],[1.1,.95],[1.25,.95],[1.4,.95],[1.05,1.2],[1.2,1.15],[1.35,1.15],[1.5,1.15],[1.65,1.15],[1.8,1.15],[.9,1.3],[1.05,1.3],[1.4,1.35],[1.6,1.35],[1.75,1.4],[1.9,1.45],[.85,1.65],[1.2,1.6],[1.35,1.55],[1.55,1.6],[1.65,1.6],[1.8,1.65],[.9,1.7],[.7,1.85],[.95,1.85],[1.15,1.95],[1.35,1.85],[1.55,1.85],[1.75,1.9],[2.2,1.95],[2.4,1.9],[2.55,1.85],[.85,2.1],[1.05,2.05],[1.25,2.15],[1.45,2.1],[1.7,2.15],[1.95,2.25],[2.2,2.2],[2.4,2.2],[2.65,2.1],[.95,2.35],[1.1,2.5],[1.25,2.45],[1.4,2.35],[1.55,2.5],[1.2,2.6],[2.05,2.45],[2.25,2.45],[2.4,2.4],[2.65,2.35],[2.85,2.3],[3.25,2.3],[1.9,2.45],[1.1,3.3],[1.2,3.35],[1.4,3.35],[1.45,3.1],
[2.45,3.6],[2.5,3.9],[2.85,3.9],[2.7,3.2],[2.9,3.45],[3.05,3.6],[3.05,3.25],[3.1,3.9],[3.2,3.5],[3.25,4],[3.3,3.15],[3.35,3.75],[3.45,4.2],[3.5,3.5],[3.55,3.75],[3.6,4.4],[3.65,3.15],[3.75,3.5],[3.8,3.75],[3.8,4.25],[3.95,3.5],[4,4.3],[4.05,3.1],[4.25,3.35],[4.25,3.65],[4.3,4.45],[4.5,3.55],[4.5,4.25],[4.65,3.15],[4.75,3.5],[4.9,3.9],[5,3.25],[5.1,3.6],[5.15,4.25],[5.35,3.75],[5.4,3.4],[5.45,4.05],[5.6,3.3],[5.6,3.8],[5.6,4.45],[5.75,3.9],[5.8,4.4],[5.85,4.75],[6,3.7],[6,4.6],[6.2,4.05],[6.2,4.5],[6.45,4.1],[6.75,4.2],
[3.7,4.95],[3.7,5.25],[3.9,5.25],[3.95,5],[4.1,5.4],[4.1,5.05],[4.25,5.2],[4.35,5.45],[4.45,5.1],[4.6,5.3],[4.6,5],[7.4,6.1],[7.6,6.05],[7.85,5.9],[8.1,6.4],[8.25,6.45],[8.5,6.3],[8.6,5.4],[8.3,5.15],[8.55,5.15],[7.3,6.15],[7.1,5.9],[7.4,5.7],[5.7,6.15],[5.8,6.35],[5.5,6.4],
];

const pointSets = [pointsA.concat(coreA), pointsB, pointsC.concat(coreC), pointsD.concat(coreD)];

// axis ranges, also the ends of the 1:1 line
const ranges = [[-1, 21], [-0.4, 8.4], [-0.75, 15.75], [-0.75, 15.75]];
const tickSets = [ticksA, ticksB, ticksCD, ticksCD];
const minorSets = [minorA, minorB, minorCD, minorCD];
const dotSizes = [8, 7.5, 7.5, 7.5];

// pixel layout of the four panels
const boxes = [
  { left: 75, top: 43, width: 491, height: 431, xGap: 29, yGap: 37, titleX: 75, titleY: 24, textX: 265, textY1: 102, textY2: 141 },
  { left: 648, top: 42, width: 493, height: 428, xGap: 27, yGap: 36, titleX: 648, titleY: 21, textX: 835, textY1: 85, textY2: 134, namePad: 28 },
  { left: 74, top: 595, width: 491, height: 431, xGap: 31, yGap: 38, titleX: 74, titleY: 576, textX: 274, textY1: 642, textY2: 680 },
  { left: 647, top: 593, width: 492, height: 432, xGap: 28, yGap: 38, titleX: 647, titleY: 572, textX: 848, textY1: 640, textY2: 678 }
];

const serif = '"Liberation Serif", serif';
const grid = [], xAxis = [], yAxis = [], series = [], graphic = [];

boxes.forEach((box, i) => {
  grid.push({ left: box.left, top: box.top, width: box.width, height: box.height, outerBoundsMode: 'none', show: true, borderColor: '#333', borderWidth: 2, backgroundColor: '#fff' });

  const axisCommon = {
    type: 'value',
    gridIndex: i,
    min: ranges[i][0],
    max: ranges[i][1],
    nameLocation: 'middle',
    nameMoveOverlap: false,
    splitLine: { show: false },
    axisLine: { show: false },
    axisTick: { show: true, length: 5, customValues: tickSets[i], lineStyle: { color: '#333', width: 1.5 } }
  };
  const labelStyle = { customValues: tickSets[i], formatter: '{value}', color: '#4d4d4d', fontFamily: serif, fontSize: 26 };
  xAxis.push(Object.assign({}, axisCommon, {
    name: xNames[i],
    nameGap: box.xGap,
    axisLabel: Object.assign({ margin: 3 }, labelStyle),
    nameTextStyle: { color: '#1a1a1a', fontFamily: serif, fontSize: 28, padding: box.namePad ? [0, 0, 0, box.namePad] : 0 }
  }));
  yAxis.push(Object.assign({}, axisCommon, {
    name: yNames[i],
    nameGap: box.yGap,
    axisLabel: Object.assign({ margin: 6 }, labelStyle),
    nameTextStyle: { color: '#1a1a1a', fontFamily: serif, fontSize: 28 }
  }));

  const gridLines = [];
  tickSets[i].forEach(v => {
    gridLines.push({ xAxis: v, lineStyle: { type: 'solid', color: '#e8e8e8', width: 2 } });
    gridLines.push({ yAxis: v, lineStyle: { type: 'solid', color: '#e8e8e8', width: 2 } });
  });
  minorSets[i].forEach(v => {
    gridLines.push({ xAxis: v, lineStyle: { type: 'solid', color: '#f0f0f0', width: 1 } });
    gridLines.push({ yAxis: v, lineStyle: { type: 'solid', color: '#f0f0f0', width: 1 } });
  });

  series.push({
    type: 'scatter',
    xAxisIndex: i,
    yAxisIndex: i,
    data: pointSets[i],
    symbolSize: dotSizes[i],
    itemStyle: { color: '#000', opacity: 1 },
    markLine: { silent: true, symbol: 'none', label: { show: false }, animation: false, data: gridLines, z: 0 },
    z: 2
  });
  series.push({
    type: 'line',
    xAxisIndex: i,
    yAxisIndex: i,
    data: [[ranges[i][0], ranges[i][0]], [ranges[i][1], ranges[i][1]]],
    symbol: 'none',
    lineStyle: { color: '#e01212', width: 7 },
    clip: true,
    z: 3
  });

  graphic.push({ type: 'text', left: box.titleX, top: box.titleY - 14, style: { text: titles[i], fill: '#111', font: 'bold 27px ' + serif } });
  graphic.push({ type: 'text', x: box.textX, y: box.textY1, z: 10, style: { text: rmsep[i], fill: '#111', font: '30px ' + serif, align: 'center', verticalAlign: 'middle' } });
  graphic.push({ type: 'text', x: box.textX, y: box.textY2, z: 10, style: { text: ef[i], fill: '#111', font: '30px ' + serif, align: 'center', verticalAlign: 'middle' } });
});

const chart = echarts.init(document.getElementById('chart'), null, { renderer: 'canvas' });
chart.setOption({ animation: false, backgroundColor: '#fff', grid, xAxis, yAxis, series, graphic });
</script>
</body>
</html>
